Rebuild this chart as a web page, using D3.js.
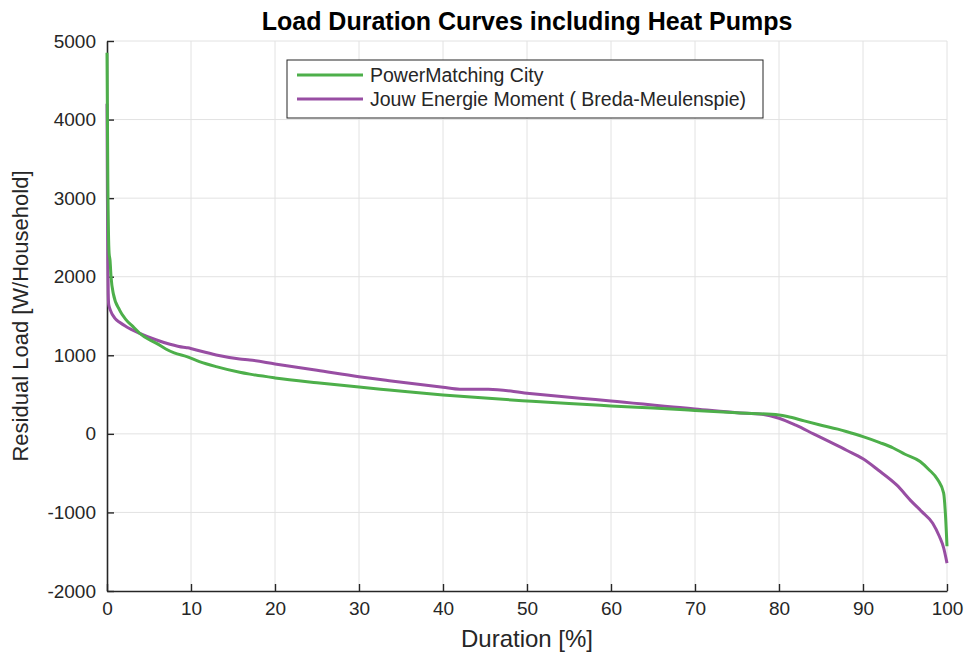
<!DOCTYPE html>
<html>
<head>
<meta charset="utf-8">
<script src="https://cdn.jsdelivr.net/npm/d3@7"></script>
<style>
  body { margin: 0; background: #fff; }
  text { font-family: "Liberation Sans", Arial, sans-serif; fill: #262626; }
</style>
</head>
<body>
<div id="chart"></div>
<script>
// duration [%] and residual load [W/household]
const pmcDuration = [0, 0.1, 0.25, 0.36, 0.48, 0.75, 1.5, 2.2, 3.1, 3.9, 5, 5.9, 7, 8, 9.5, 11, 13, 15.8, 17, 20,
  25, 30, 33.6, 40, 45, 50, 55, 60, 65, 68.2, 70, 75, 80, 81, 83, 84.9, 87, 88, 90, 92,
  93.6, 95, 96.8, 97.8, 98.9, 99.6, 99.8, 100];
const pmcLoad = [4850, 3200, 2300, 2210, 2000, 1785, 1575, 1460, 1364, 1280, 1200, 1152, 1080, 1030, 983, 920, 856, 784, 760, 712,
  650, 595, 559, 496, 455, 419, 385, 356, 328, 310, 298, 268, 240, 222, 165, 113, 60, 30, -35, -111,
  -180, -260, -352, -450, -585, -755, -1000, -1430];

const jemDuration = [0, 0.05, 0.1, 0.15, 0.2, 0.4, 0.95, 1.5, 2.3, 3.9, 5.9, 7.5, 9.1, 9.6, 10.3, 13, 15.8, 17, 20, 25,
  30, 33.6, 40, 42, 45.4, 50, 56.3, 60, 68.2, 70, 75, 78, 80, 82, 84.1, 86, 88.1, 90, 91.8, 94,
  95.8, 97, 98.3, 99.1, 99.6, 100];
const jemLoad = [4200, 3000, 2200, 1785, 1650, 1575, 1470, 1420, 1364, 1280, 1195, 1140, 1101, 1095, 1076, 1004, 953, 940, 890, 810,
  728, 677, 593, 568, 568, 517, 453, 419, 334, 318, 270, 250, 199, 110, 0, -100, -212, -318, -460, -650,
  -862, -990, -1137, -1307, -1450, -1645];

const seriesNames = ["PowerMatching City", "Jouw Energie Moment ( Breda-Meulenspie)"];
const seriesColors = ["#4daf4a", "#984ea3"];
const xTicks = [0, 10, 20, 30, 40, 50, 60, 70, 80, 90, 100];
const yTicks = [-2000, -1000, 0, 1000, 2000, 3000, 4000, 5000];

function draw_chart() {
    var margin = {top: 41, right: 17, bottom: 62, left: 107},
    width = 964 - margin.left - margin.right,
    height = 653 - margin.top - margin.bottom;

    var svg = d3.select("#chart")
        .append("svg")
        .attr("width", 964)
        .attr("height", 653)
        .append("g")
        .attr("transform", "translate(" + margin.left + "," + margin.top + ")");

    const x = d3.scaleLinear().domain([0, 100]).range([0, width]);
    const y = d3.scaleLinear().domain([-2000, 5000]).range([height, 0]);

    // grid
    svg.append("g")
        .selectAll("line")
        .data(xTicks.slice(1))
        .join("line")
        .attr("x1", d => x(d)).attr("x2", d => x(d))
        .attr("y1", 0).attr("y2", height)
        .style("stroke", "#e2e2e2").style("stroke-width", 1);
    svg.append("g")
        .selectAll("line")
        .data(yTicks.slice(1))
        .join("line")
        .attr("x1", 0).attr("x2", width)
        .attr("y1", d => y(d)).attr("y2", d => y(d))
        .style("stroke", "#e2e2e2").style("stroke-width", 1);

    // axes, ticks pointing inward, plain hyphen for negatives
    const fmt = d => String(d);
    const xAxis = svg.append("g")
        .attr("transform", `translate(0, ${height})`)
        .call(d3.axisBottom(x).tickValues(xTicks).tickFormat(fmt).tickSizeInner(-7).tickSizeOuter(0).tickPadding(11));
    const yAxis = svg.append("g")
        .call(d3.axisLeft(y).tickValues(yTicks).tickFormat(fmt).tickSizeInner(-7).tickSizeOuter(0).tickPadding(11));
    [xAxis, yAxis].forEach(a => {
        a.select(".domain").style("stroke", "#262626").style("stroke-width", 1.6);
        a.selectAll(".tick line").style("stroke", "#262626").style("stroke-width", 1.4);
        a.selectAll(".tick text")
            .style("font-size", "19px")
            .style("font-family", "Liberation Sans, Arial, sans-serif")
            .style("fill", "#262626");
    });

    // curves
    const line = d3.line()
        .x(d => x(d[0]))
        .y(d => y(d[1]))
        .curve(d3.curveMonotoneX);
    const series = [
        d3.zip(pmcDuration, pmcLoad),
        d3.zip(jemDuration, jemLoad)
    ];
    // draw purple first so green sits on top at the start, as in the picture
    [1, 0].forEach(i => {
        svg.append("path")
            .datum(series[i])
            .attr("d", line)
            .style("fill", "none")
            .style("stroke", seriesColors[i])
            .style("stroke-width", 3)
            .style("stroke-linejoin", "round");
    });

    // legend
    const legend = svg.append("g").attr("transform", "translate(180, 19)");
    legend.append("rect")
        .attr("x", 0).attr("y", 0)
        .attr("width", 476).attr("height", 58)
        .style("fill", "#fff")
        .style("stroke", "#262626")
        .style("stroke-width", 1);
    seriesNames.forEach((name, i) => {
        legend.append("line")
            .attr("x1", 10).attr("x2", 76)
            .attr("y1", 15 + i * 24).attr("y2", 15 + i * 24)
            .style("stroke", seriesColors[i])
            .style("stroke-width", 3);
        legend.append("text")
            .attr("x", 83).attr("y", 15 + i * 24)
            .attr("dy", "0.35em")
            .style("font-size", "19.5px")
            .text(name);
    });

    // title and axis labels
    svg.append("text")
        .attr("x", width / 2)
        .attr("y", -margin.top + 30)
        .style("text-anchor", "middle")
        .style("font-size", "25px")
        .style("font-weight", "bold")
        .style("fill", "#000")
        .text("Load Duration Curves including Heat Pumps");

    svg.append("text")
        .attr("x", width / 2)
        .attr("y", height + 56)
        .style("text-anchor", "middle")
        .style("font-size", "24px")
        .text("Duration [%]");

    svg.append("text")
        .attr("transform", "rotate(-90)")
        .attr("x", -height / 2)
        .attr("y", -margin.left + 28)
        .style("text-anchor", "middle")
        .style("font-size", "22px")
        .text("Residual Load [W/Household]");
}

draw_chart();
</script>
</body>
</html>
